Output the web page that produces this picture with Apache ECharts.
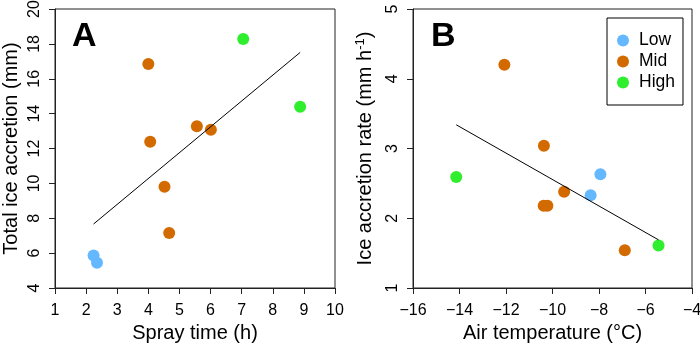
<!DOCTYPE html>
<html><head><meta charset="utf-8">
<script src="https://cdn.jsdelivr.net/npm/echarts@6/dist/echarts.min.js"></script>
<style>html,body{margin:0;padding:0;background:#fff}#c{width:700px;height:343px}</style>
</head><body><div id="c"></div>
<script>
// ---- Panel A: total ice accretion vs spray time ----
const aLowX = [2.24, 2.35];
const aLowY = [5.87, 5.45];
const aMidX = [4.00, 4.06, 4.52, 4.67, 5.56, 6.01];
const aMidY = [16.84, 12.39, 9.81, 7.15, 13.27, 13.08];
const aHighX = [7.05, 8.88];
const aHighY = [18.28, 14.40];
const aFitX = [2.24, 8.88];
const aFitY = [7.67, 17.51];
const aXTicks = [1, 10, 1];   // min, max, interval
const aYTicks = [4, 20, 2];

// ---- Panel B: ice accretion rate vs air temperature ----
const bLowX = [-7.94, -8.36];
const bLowY = [2.63, 2.33];
const bMidX = [-12.07, -10.37, -9.50, -10.38, -10.22, -6.89];
const bMidY = [4.20, 3.04, 2.38, 2.18, 2.18, 1.54];
const bHighX = [-14.14, -5.44];
const bHighY = [2.59, 1.61];
const bFitX = [-14.14, -5.44];
const bFitY = [3.34, 1.69];
const bXTicks = [-16, -4, 2];
const bYTicks = [1, 5, 1];

const groups = ['Low', 'Mid', 'High'];
const colors = ['#63B8FF', '#D26A00', '#2EEE2E'];

const FONT = '"Liberation Sans", Arial, Helvetica, sans-serif';
const zip = (xs, ys) => xs.map((x, i) => [x, ys[i]]);
const axisCol = '#222';
const fmt = v => String(v).replace('-', '\u2212');

function xAxis(idx, t, name, gap) {
  return {
    type: 'value', gridIndex: idx, min: t[0], max: t[1], interval: t[2],
    axisLine: {show: true, lineStyle: {color: axisCol, width: 1}},
    axisTick: {show: true, length: 6, lineStyle: {color: axisCol}},
    splitLine: {show: false},
    axisLabel: {fontSize: 16, color: '#000', fontFamily: FONT, margin: 15, formatter: fmt, showMinLabel: true, showMaxLabel: true},
    name: name, nameLocation: 'middle', nameGap: gap,
    nameTextStyle: {fontSize: 20, color: '#000', fontFamily: FONT}
  };
}
function yAxis(idx, t, name, gap, rich) {
  return {
    type: 'value', gridIndex: idx, min: t[0], max: t[1], interval: t[2],
    axisLine: {show: true, lineStyle: {color: axisCol, width: 1}},
    axisTick: {show: true, length: 6, lineStyle: {color: axisCol}},
    splitLine: {show: false},
    axisLabel: {fontSize: 16, color: '#000', fontFamily: FONT, margin: 12, rotate: 90, formatter: fmt, showMinLabel: true, showMaxLabel: true},
    name: name, nameLocation: 'middle', nameGap: gap, nameRotate: 90,
    nameTextStyle: Object.assign({fontSize: 20, color: '#000', fontFamily: FONT}, rich ? {rich: rich} : {})
  };
}

function scatter(name, data, color, xi) {
  return {
    type: 'scatter', name: name, xAxisIndex: xi, yAxisIndex: xi, data: data,
    symbol: 'circle', symbolSize: 12, itemStyle: {color: color, opacity: 1},
    z: 2, silent: true
  };
}
function fit(data, xi) {
  return {
    type: 'line', xAxisIndex: xi, yAxisIndex: xi, data: data, showSymbol: false,
    symbol: 'none', lineStyle: {color: '#000', width: 1}, z: 3, silent: true
  };
}

const chart = echarts.init(document.getElementById('c'), null, {renderer: 'canvas'});
chart.setOption({
  animation: false,
  backgroundColor: '#fff',
  textStyle: {fontFamily: FONT},
  grid: [
    {left: 55, right: 365, top: 9, bottom: 55, show: true, borderColor: axisCol, borderWidth: 1, backgroundColor: 'transparent', containLabel: false, outerBoundsMode: 'none'},
    {left: 413, right: 8, top: 9, bottom: 55, show: true, borderColor: axisCol, borderWidth: 1, backgroundColor: 'transparent', containLabel: false, outerBoundsMode: 'none'}
  ],
  xAxis: [
    xAxis(0, aXTicks, 'Spray time (h)', 33),
    xAxis(1, bXTicks, 'Air temperature (°C)', 33)
  ],
  yAxis: [
    yAxis(0, aYTicks, 'Total ice accretion (mm)', 34),
    yAxis(1, bYTicks, 'Ice accretion rate (mm h{sup|-1})', 36, {sup: {fontSize: 13, verticalAlign: 'top', padding: [0, 0, 10, 0], color: '#000', fontFamily: FONT}})
  ],
  legend: {
    show: true, orient: 'vertical', left: 607, top: 18,
    data: groups, icon: 'circle', itemWidth: 12, itemHeight: 12, itemGap: 0,
    borderColor: '#000', borderWidth: 1, borderRadius: 0,
    padding: [12, 8, 12, 10],
    textStyle: {fontSize: 17.5, color: '#000', fontFamily: FONT, lineHeight: 21, padding: [0, 0, 0, 5]}
  },
  graphic: [
    {type: 'text', left: 72, top: 20, style: {text: 'A', fontSize: 34, fontWeight: 'bold', fill: '#000', fontFamily: FONT}},
    {type: 'text', left: 431, top: 20, style: {text: 'B', fontSize: 34, fontWeight: 'bold', fill: '#000', fontFamily: FONT}}
  ],
  series: [
    scatter('Low', zip(aLowX, aLowY), colors[0], 0),
    scatter('Mid', zip(aMidX, aMidY), colors[1], 0),
    scatter('High', zip(aHighX, aHighY), colors[2], 0),
    fit(zip(aFitX, aFitY), 0),
    scatter('Low', zip(bLowX, bLowY), colors[0], 1),
    scatter('Mid', zip(bMidX, bMidY), colors[1], 1),
    scatter('High', zip(bHighX, bHighY), colors[2], 1),
    fit(zip(bFitX, bFitY), 1)
  ]
});
</script></body></html>
